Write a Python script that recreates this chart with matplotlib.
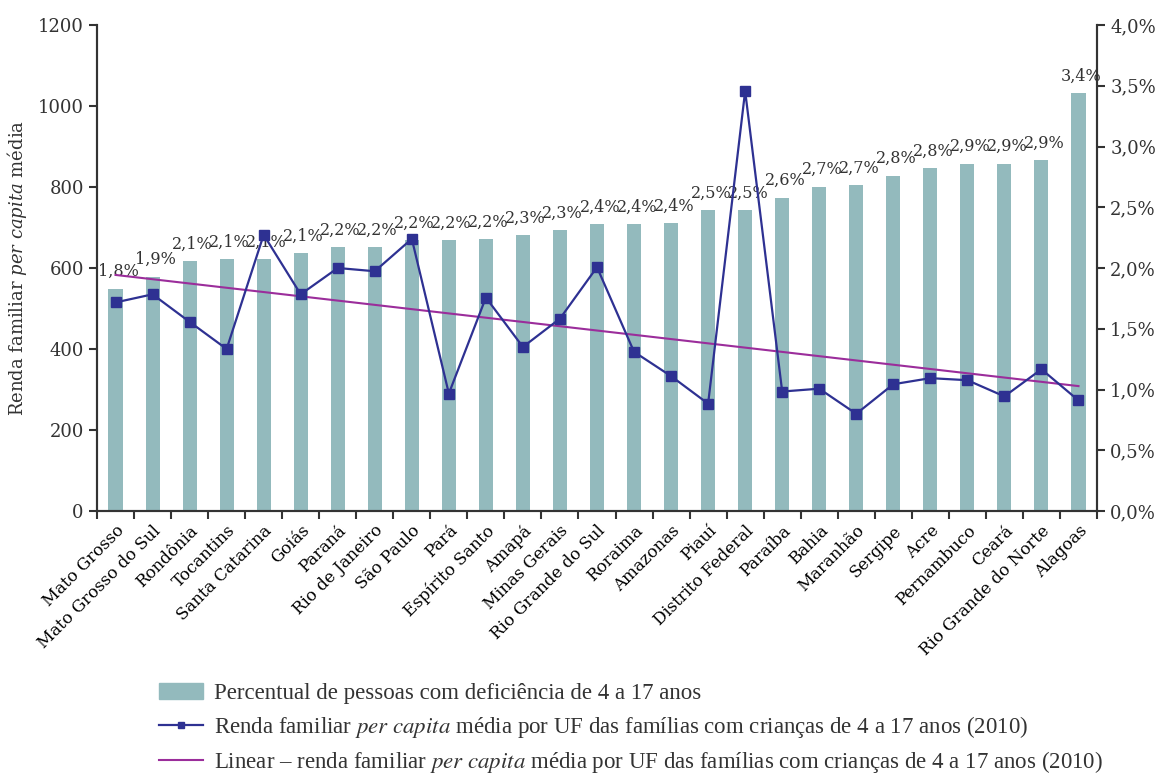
import numpy as np
import matplotlib
matplotlib.use('Agg')
import matplotlib.pyplot as plt
from matplotlib.lines import Line2D
from matplotlib.patches import Patch

# dados
ufs = ['Mato Grosso', 'Mato Grosso do Sul', 'Rondônia', 'Tocantins', 'Santa Catarina',
       'Goiás', 'Paraná', 'Rio de Janeiro', 'São Paulo', 'Pará', 'Espírito Santo',
       'Amapá', 'Minas Gerais', 'Rio Grande do Sul', 'Roraima', 'Amazonas', 'Piauí',
       'Distrito Federal', 'Paraíba', 'Bahia', 'Maranhão', 'Sergipe', 'Acre',
       'Pernambuco', 'Ceará', 'Rio Grande do Norte', 'Alagoas']
percentual = [1.83, 1.93, 2.06, 2.07, 2.07, 2.12, 2.17, 2.17, 2.23, 2.23, 2.24,
              2.27, 2.31, 2.36, 2.36, 2.37, 2.48, 2.48, 2.58, 2.67, 2.68, 2.76,
              2.82, 2.86, 2.86, 2.89, 3.44]
renda = [515, 535, 467, 400, 682, 535, 600, 592, 672, 290, 527, 405, 475, 602,
         393, 333, 265, 1037, 295, 302, 240, 313, 328, 323, 283, 350, 273]

cor_barra = '#93babd'
cor_renda = '#2e3192'
cor_linear = '#9b2d9b'
cor_eixo = '#333333'

plt.rcParams['font.family'] = 'DejaVu Serif'
plt.rcParams['mathtext.fontset'] = 'custom'
plt.rcParams['mathtext.rm'] = 'DejaVu Serif'
plt.rcParams['mathtext.it'] = 'DejaVu Serif:italic'

fig = plt.figure(figsize=(11.66, 7.76), dpi=100)
ax = fig.add_axes([97 / 1166, 1 - 511 / 776, 1000 / 1166, 486 / 776])
ax2 = ax.twinx()

x = np.arange(len(ufs))

# barras no eixo da direita
ax2.bar(x, percentual, width=0.38, color=cor_barra, zorder=1)
for xi, p in zip(x, percentual):
    ax2.annotate(('%.1f%%' % p).replace('.', ','), (xi, p), xytext=(2, 6),
                 textcoords='offset points', ha='center', va='bottom',
                 fontsize=11.5, color='#333333')
ax2.set_ylim(0, 4)
ax2.set_yticks(np.arange(0, 4.01, 0.5))
ax2.set_yticklabels([('%.1f%%' % v).replace('.', ',') for v in np.arange(0, 4.01, 0.5)])

# linha de renda no eixo da esquerda (por cima das barras)
ax.set_zorder(ax2.get_zorder() + 1)
ax.patch.set_visible(False)
ax.plot(x, renda, color=cor_renda, lw=1.6, marker='s', ms=6.5, zorder=3)
coef = np.polyfit(x, renda, 1)
ax.plot(x, np.polyval(coef, x), color=cor_linear, lw=1.5, zorder=2)
ax.set_ylim(0, 1200)
ax.set_yticks(range(0, 1201, 200))
ax.set_xlim(-0.5, len(ufs) - 0.5)

ax.set_xticks(x)
ax.set_xticklabels(ufs, rotation=45, ha='right', rotation_mode='anchor', fontsize=12)
ax.set_xticks(np.arange(-0.5, len(ufs)), minor=True)
ax.tick_params(axis='x', which='major', length=0, pad=8)
ax.tick_params(axis='x', which='minor', length=6, width=1.5, color=cor_eixo)
ax.tick_params(axis='y', length=6, width=1.5, color=cor_eixo, labelsize=13, labelcolor='#333333')
ax2.tick_params(axis='y', length=6, width=1.5, color=cor_eixo, labelsize=13, labelcolor='#333333')

ax.set_ylabel(r'Renda familiar $\mathit{per\ capita}$ média', fontsize=13, color='#333333', labelpad=6)

for a in (ax, ax2):
    a.spines['top'].set_visible(False)
    for s in ('left', 'right', 'bottom'):
        a.spines[s].set_color(cor_eixo)
        a.spines[s].set_linewidth(1.5)

# legenda
handles = [
    Patch(color=cor_barra),
    Line2D([], [], color=cor_renda, lw=1.6, marker='s', ms=5),
    Line2D([], [], color=cor_linear, lw=1.5),
]
labels = [
    'Percentual de pessoas com deficiência de 4 a 17 anos',
    r'Renda familiar $\mathit{per\ capita}$ média por UF das famílias com crianças de 4 a 17 anos (2010)',
    r'Linear – renda familiar $\mathit{per\ capita}$ média por UF das famílias com crianças de 4 a 17 anos (2010)',
]
leg = fig.legend(handles, labels, loc='upper left', bbox_to_anchor=(150 / 1166, 1 - 674 / 776),
                 frameon=False, prop={'family': 'Liberation Serif', 'size': 16.5, 'math_fontfamily': 'stix'},
                 handlelength=1.9, handletextpad=0.5, labelspacing=0.42, borderaxespad=0)
for t in leg.get_texts():
    t.set_color('#333333')

fig.savefig('out.png', dpi=100)
